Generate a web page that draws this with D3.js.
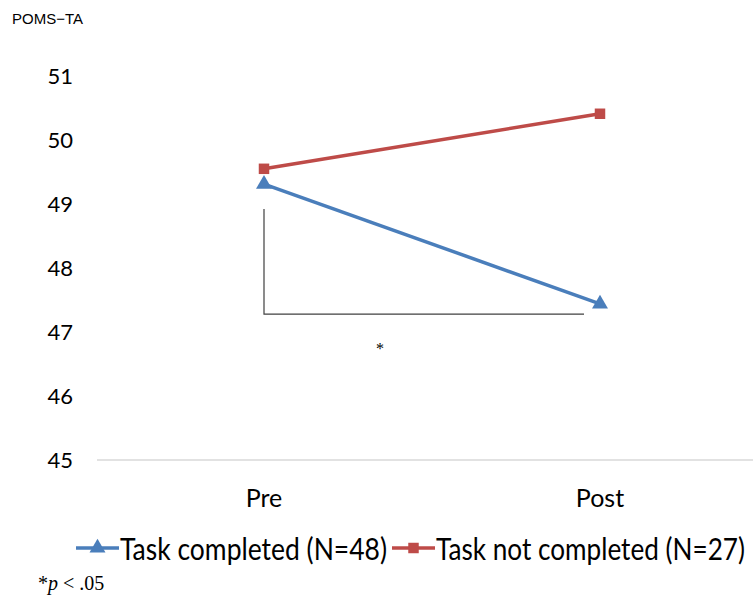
<!DOCTYPE html>
<html><head><meta charset="utf-8">
<script src="https://cdn.jsdelivr.net/npm/d3@7"></script>
<style>body{margin:0;background:#fff}svg{display:block}</style>
</head><body>
<svg id="c" width="753" height="597"></svg>
<script>
const categories = ["Pre", "Post"];
const completed = [49.31, 47.44];
const notCompleted = [49.55, 50.41];
const yTicks = [45, 46, 47, 48, 49, 50, 51];
const seriesNames = ["Task completed (N=48)", "Task not completed (N=27)"];

const svg = d3.select("#c");
const font = "Lato, 'Open Sans', sans-serif";
const x = d3.scalePoint().domain(categories).range([264, 600]);
const y = d3.scaleLinear().domain([45, 51]).range([460, 76]);

// baseline
svg.append("line").attr("x1", 97).attr("x2", 753).attr("y1", y(45)).attr("y2", y(45))
  .attr("stroke", "#d9d9d9").attr("stroke-width", 1.3);

// y ticks
svg.append("g").selectAll("text").data(yTicks).join("text")
  .attr("x", 73).attr("y", d => y(d) + 8).attr("text-anchor", "end")
  .attr("font-family", font).attr("font-size", 22).attr("fill", "#000").text(d => d);

// x labels
svg.append("g").selectAll("text").data(categories).join("text")
  .attr("x", d => x(d)).attr("y", 507).attr("text-anchor", "middle")
  .attr("font-family", font).attr("font-size", 25).attr("fill", "#000").text(d => d);

// axis title
svg.append("text").attr("x", 12).attr("y", 24).attr("font-family", "'Liberation Sans', Arial, sans-serif")
  .attr("font-size", 15).text("POMS\u2212TA");

// significance bracket
svg.append("path").attr("d", `M${x("Pre")},${y(48.92)}V${y(47.28)}H584`)
  .attr("fill", "none").attr("stroke", "#404040").attr("stroke-width", 1.2);
svg.append("text").attr("x", 380).attr("y", 354).attr("text-anchor", "middle")
  .attr("font-family", "'Liberation Serif', serif").attr("font-size", 16).text("*");

const line = d3.line().x((d, i) => x(categories[i])).y(d => y(d));
const blue = "#4a7ebb", red = "#be4b48";

svg.append("path").datum(completed).attr("d", line).attr("fill", "none").attr("stroke", blue).attr("stroke-width", 3.5);
svg.append("path").datum(notCompleted).attr("d", line).attr("fill", "none").attr("stroke", red).attr("stroke-width", 3.5);

const tri = d3.symbol().type(d3.symbolTriangle).size(110);
const sq = d3.symbol().type(d3.symbolSquare).size(110);
svg.append("g").selectAll("path").data(completed).join("path")
  .attr("transform", (d, i) => `translate(${x(categories[i])},${y(d)})`).attr("d", tri).attr("fill", blue);
svg.append("g").selectAll("path").data(notCompleted).join("path")
  .attr("transform", (d, i) => `translate(${x(categories[i])},${y(d)})`).attr("d", sq).attr("fill", red);

// legend
const lg = [{name: seriesNames[0], c: blue, s: tri, x0: 76, tx: 120, w: 267},
            {name: seriesNames[1], c: red, s: sq, x0: 392, tx: 436, w: 309}];
const ly = 548;
lg.forEach(l => {
  svg.append("line").attr("x1", l.x0).attr("x2", l.x0 + 43).attr("y1", ly).attr("y2", ly)
    .attr("stroke", l.c).attr("stroke-width", 3.5);
  svg.append("path").attr("transform", `translate(${l.x0 + 21.5},${ly})`).attr("d", l.s).attr("fill", l.c);
  svg.append("text").attr("transform", `translate(${l.tx},${ly + 12}) scale(1,1.2)`)
    .attr("textLength", l.w).attr("lengthAdjust", "spacingAndGlyphs")
    .attr("font-family", font).attr("font-size", 25.5).text(l.name);
});

// footnote
const fn = svg.append("text").attr("x", 38).attr("y", 590).attr("font-family", "'Liberation Serif', 'Times New Roman', serif").attr("font-size", 20);
fn.append("tspan").text("*");
fn.append("tspan").attr("font-style", "italic").text("p");
fn.append("tspan").text(" < .05");
</script>
</body></html>
